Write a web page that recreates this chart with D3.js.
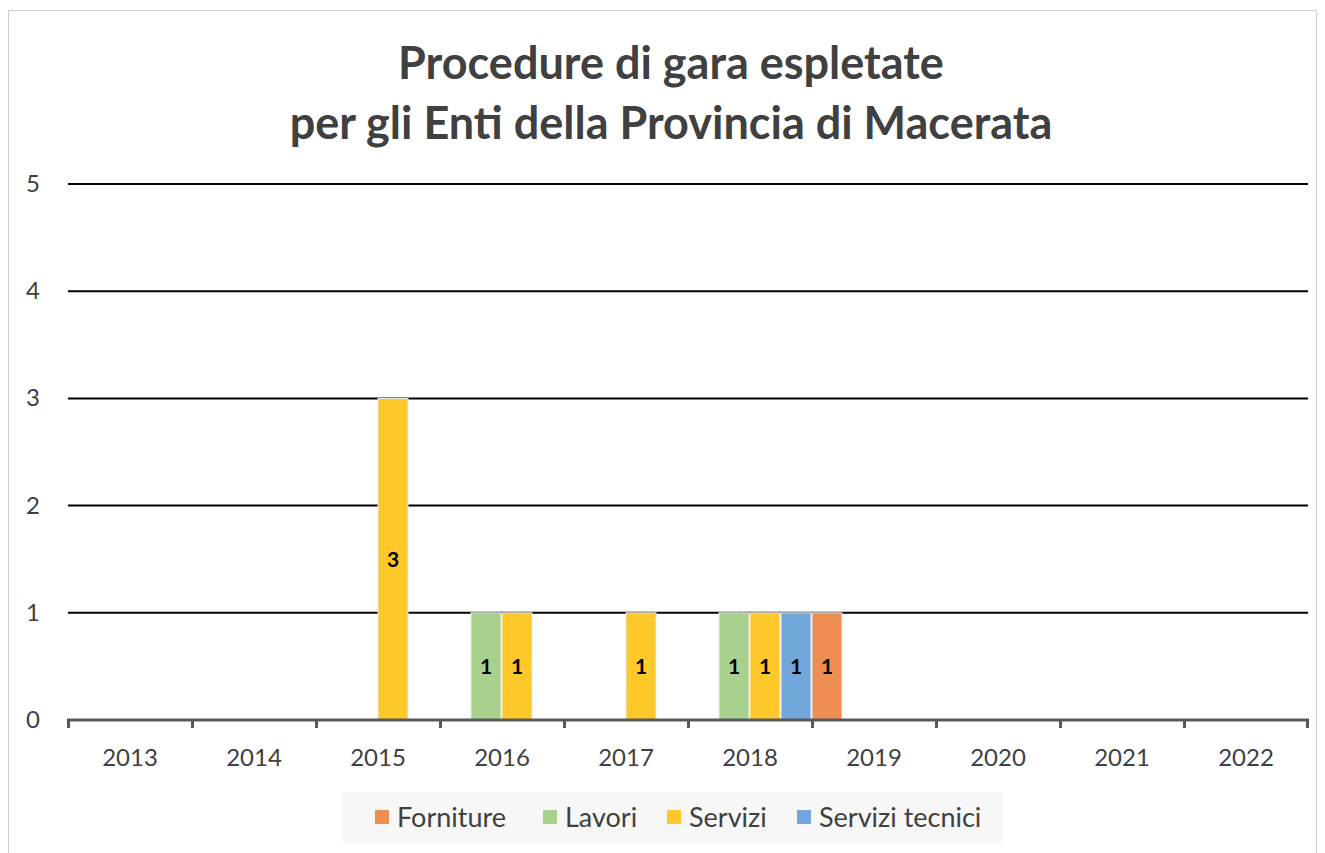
<!DOCTYPE html>
<html>
<head>
<meta charset="utf-8">
<script src="https://cdn.jsdelivr.net/npm/d3@7"></script>
<style>
  body { margin: 0; background: #fff; }
  text { font-family: Lato, "Open Sans", sans-serif; }
</style>
</head>
<body>
<script>
const width = 1325, height = 853;

// data
const years = ['2013','2014','2015','2016','2017','2018','2019','2020','2021','2022'];
const seriesNames = ['Forniture', 'Lavori', 'Servizi', 'Servizi tecnici'];
const forniture      = [0,0,0,0,0,1,0,0,0,0];
const lavori         = [0,0,0,1,0,1,0,0,0,0];
const servizi        = [0,0,3,1,1,1,0,0,0,0];
const serviziTecnici = [0,0,0,0,0,1,0,0,0,0];
const yTicks = [0,1,2,3,4,5];

const colors = {
  'Forniture': '#EF8E52',
  'Lavori': '#A9D18E',
  'Servizi': '#FEC72A',
  'Servizi tecnici': '#71A7DB'
};
// order the bars sit in inside a year group
const barOrder = ['Lavori', 'Servizi', 'Servizi tecnici', 'Forniture'];
const values = {
  'Forniture': forniture,
  'Lavori': lavori,
  'Servizi': servizi,
  'Servizi tecnici': serviziTecnici
};

const svg = d3.select('body').append('svg')
  .attr('width', width)
  .attr('height', height);

// chart border
svg.append('rect')
  .attr('x', 8.5).attr('y', 10.5)
  .attr('width', 1308).attr('height', 850)
  .attr('fill', '#fff')
  .attr('stroke', '#d0d0d0');

// title
svg.append('text')
  .attr('x', 671).attr('y', 79)
  .attr('text-anchor', 'middle')
  .attr('font-size', 45).attr('font-weight', 'bold')
  .attr('fill', '#404040')
  .text('Procedure di gara espletate');
svg.append('text')
  .attr('x', 671).attr('y', 139)
  .attr('text-anchor', 'middle')
  .attr('font-size', 45).attr('font-weight', 'bold')
  .attr('fill', '#404040')
  .text('per gli Enti della Provincia di Macerata');

const x0 = d3.scaleBand().domain(years).range([68, 1308]).padding(0);
const y = d3.scaleLinear().domain([0, 5]).range([720, 184]);
const bw = x0.bandwidth();
const x1 = d3.scaleBand().domain(barOrder).range([bw / 2 - 31, bw / 2 + 93]).padding(0);

// gridlines
svg.append('g').selectAll('line').data(yTicks.filter(d => d > 0))
  .enter().append('line')
    .attr('x1', 68).attr('x2', 1308)
    .attr('y1', d => y(d)).attr('y2', d => y(d))
    .attr('stroke', '#000').attr('stroke-width', 2);

// y labels
svg.append('g').selectAll('text').data(yTicks)
  .enter().append('text')
    .attr('x', 33).attr('y', d => y(d) + 8)
    .attr('text-anchor', 'middle')
    .attr('font-size', 24).attr('fill', '#404040')
    .text(d => d);

// bars
const rows = [];
years.forEach((yr, i) => {
  barOrder.forEach(s => {
    if (values[s][i] > 0) rows.push({ year: yr, series: s, value: values[s][i] });
  });
});

svg.append('g').selectAll('rect').data(rows)
  .enter().append('rect')
    .attr('x', d => x0(d.year) + x1(d.series))
    .attr('y', d => y(d.value))
    .attr('width', x1.bandwidth() - 1)
    .attr('height', d => y(0) - y(d.value))
    .attr('fill', d => colors[d.series])
    .attr('stroke', '#ececec').attr('stroke-width', 1);

svg.append('g').selectAll('text').data(rows)
  .enter().append('text')
    .attr('x', d => x0(d.year) + x1(d.series) + x1.bandwidth() / 2 - 0.5)
    .attr('y', d => (y(d.value) + y(0)) / 2 + 8)
    .attr('text-anchor', 'middle')
    .attr('font-size', 21).attr('font-weight', 'bold').attr('fill', '#000')
    .text(d => d.value);

// x axis
const xAxis = svg.append('g');
xAxis.append('line')
  .attr('x1', 67).attr('x2', 1309)
  .attr('y1', 720).attr('y2', 720)
  .attr('stroke', '#595959').attr('stroke-width', 3);
xAxis.selectAll('.tick').data(years.concat(['end']))
  .enter().append('line')
    .attr('class', 'tick')
    .attr('x1', d => d === 'end' ? 1307.5 : x0(d) + 0.5)
    .attr('x2', d => d === 'end' ? 1307.5 : x0(d) + 0.5)
    .attr('y1', 720).attr('y2', 728)
    .attr('stroke', '#595959').attr('stroke-width', 3);
xAxis.selectAll('.lbl').data(years)
  .enter().append('text')
    .attr('class', 'lbl')
    .attr('x', d => x0(d) + bw / 2)
    .attr('y', 766)
    .attr('text-anchor', 'middle')
    .attr('font-size', 24).attr('fill', '#404040')
    .text(d => d);

// legend
const legend = svg.append('g');
legend.append('rect')
  .attr('x', 342).attr('y', 792)
  .attr('width', 661).attr('height', 51)
  .attr('fill', '#f7f7f7');
const legendX = [375, 543, 667, 797];
seriesNames.forEach((s, i) => {
  legend.append('rect')
    .attr('x', legendX[i]).attr('y', 810)
    .attr('width', 14).attr('height', 14)
    .attr('fill', colors[s]);
  legend.append('text')
    .attr('x', legendX[i] + 22).attr('y', 827)
    .attr('font-size', 27).attr('fill', '#404040')
    .text(s);
});
</script>
</body>
</html>
